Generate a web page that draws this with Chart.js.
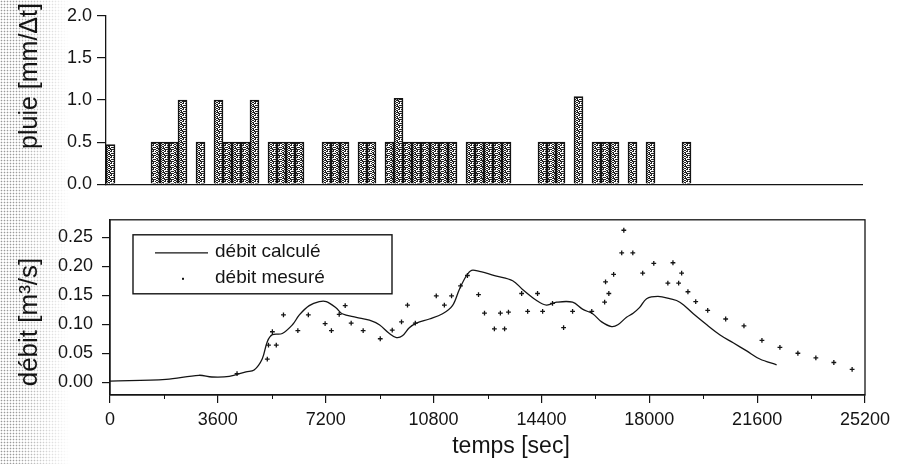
<!DOCTYPE html>
<html lang="fr">
<head>
<meta charset="utf-8">
<title>Pluie et débit</title>
<script src="https://cdn.jsdelivr.net/npm/chart.js@4.4.1/dist/chart.umd.min.js"></script>
<style>
  html, body { margin: 0; padding: 0; background: #fff; }
  #page { position: relative; width: 901px; height: 464px; overflow: hidden; }
  #trame {
    position: absolute; left: 0; top: 0; width: 74px; height: 464px;
    background-image: radial-gradient(circle, #9a9a9a 0.7px, transparent 1.1px);
    background-size: 3px 3px;
    -webkit-mask-image: linear-gradient(to right, #000 0, #000 14px, transparent 70px);
    mask-image: linear-gradient(to right, #000 0, #000 14px, transparent 70px);
  }
  canvas { position: absolute; left: 0; }
  #pluie { top: 0; }
  #debit { top: 200px; }
</style>
</head>
<body>
<div id="page">
  <div id="trame"></div>
  <canvas id="pluie" width="901" height="200"></canvas>
  <canvas id="debit" width="901" height="264"></canvas>
</div>
<script>
// pluie : début de chaque pas de temps (s) et hauteur tombée (mm)
const pasTemps = 300;
const tempsPluie = [0, 1500, 1800, 2100, 2400, 3000, 3600, 3900, 4200, 4500, 4800,
  5400, 5700, 6000, 6300, 7200, 7500, 7800, 8400, 8700,
  9300, 9600, 9900, 10200, 10500, 10800, 11100, 11400,
  12000, 12300, 12600, 12900, 13200, 14400, 14700, 15000, 15600,
  16200, 16500, 16800, 17400, 18000, 19200];
const pluie = [0.47, 0.5, 0.5, 0.5, 1.0, 0.5, 1.0, 0.5, 0.5, 0.5, 1.0,
  0.5, 0.5, 0.5, 0.5, 0.5, 0.5, 0.5, 0.5, 0.5,
  0.5, 1.02, 0.5, 0.5, 0.5, 0.5, 0.5, 0.5,
  0.5, 0.5, 0.5, 0.5, 0.5, 0.5, 0.5, 0.5, 1.04,
  0.5, 0.5, 0.5, 0.5, 0.5, 0.5];

// débit calculé par le modèle (s, m3/s)
const tempsCalcule = [0, 1870, 2970, 3400, 3980, 4540, 4810, 5080, 5250, 5420,
  5750, 6090, 6320, 6650, 6985, 7220, 7550, 7750, 8220, 8660,
  8990, 9325, 9560, 9760, 9990, 10230, 10660, 11100, 11430, 11660,
  11900, 12070, 12330, 12900, 13440, 13770, 14240, 14570, 14910, 15440,
  15770, 16110, 16410, 16740, 16950, 17240, 17460, 17680, 17910, 18290,
  18680, 19020, 19470, 19920, 20350, 20800, 21250, 21690, 22250];
const debitCalcule = [0.002, 0.005, 0.012, 0.009, 0.010, 0.018, 0.021, 0.040, 0.070, 0.082,
  0.084, 0.099, 0.116, 0.132, 0.139, 0.139, 0.128, 0.118, 0.112, 0.107,
  0.099, 0.084, 0.077, 0.080, 0.094, 0.102, 0.109, 0.118, 0.132, 0.160,
  0.184, 0.193, 0.191, 0.183, 0.175, 0.160, 0.141, 0.133, 0.138, 0.138,
  0.126, 0.118, 0.104, 0.096, 0.099, 0.112, 0.119, 0.129, 0.144, 0.148,
  0.144, 0.138, 0.118, 0.099, 0.082, 0.068, 0.054, 0.040, 0.030];

// débit mesuré (s, m3/s)
const tempsMesure = [4240, 5250, 5290, 5420, 5550, 5790, 6270, 6620, 7180, 7390,
  7650, 7850, 8050, 8450, 9020, 9420, 9730, 9930, 10190, 10890,
  11160, 11400, 11700, 11930, 12300, 12500, 12830, 13030, 13170, 13300,
  13740, 13940, 14270, 14440, 14770, 15140, 15440, 16080, 16510, 16540,
  16650, 16810, 17080, 17150, 17450, 17780, 18150, 18620, 18790, 18980,
  19080, 19290, 19550, 19950, 20550, 21160, 21760, 22360, 22960, 23560,
  24160, 24770];
const debitMesure = [0.015, 0.040, 0.064, 0.087, 0.064, 0.116, 0.089, 0.116, 0.101, 0.089,
  0.117, 0.132, 0.102, 0.089, 0.075, 0.090, 0.104, 0.133, 0.102, 0.149,
  0.133, 0.149, 0.166, 0.184, 0.151, 0.119, 0.092, 0.119, 0.092, 0.121,
  0.153, 0.122, 0.153, 0.122, 0.136, 0.094, 0.122, 0.122, 0.138, 0.173,
  0.153, 0.186, 0.223, 0.262, 0.223, 0.188, 0.205, 0.171, 0.206, 0.171,
  0.188, 0.156, 0.139, 0.124, 0.109, 0.097, 0.072, 0.060, 0.050, 0.042,
  0.034, 0.022];

const pluieTicks = [0, 0.5, 1.0, 1.5, 2.0];
const debitTicks = [0, 0.05, 0.10, 0.15, 0.20, 0.25];
const tempsTicks = [0, 3600, 7200, 10800, 14400, 18000, 21600, 25200];

const encre = '#141414';
const police = "'Liberation Sans', Arial, Helvetica, sans-serif";
Chart.defaults.font.family = police;
Chart.defaults.color = encre;

// trame mouchetée des barres de pluie
function trameBarres() {
  const c = document.createElement('canvas');
  c.width = 6; c.height = 6;
  const g = c.getContext('2d');
  g.fillStyle = '#fff';
  g.fillRect(0, 0, 6, 6);
  g.fillStyle = '#222';
  [[0, 0, 2, 1], [3, 0, 1, 2], [5, 1, 1, 1], [1, 2, 1, 2], [4, 3, 2, 1],
   [0, 4, 1, 1], [2, 5, 2, 1], [5, 5, 1, 1], [3, 3, 1, 1], [2, 1, 1, 1],
   [0, 2, 1, 1], [4, 5, 1, 1], [1, 4, 2, 1]].forEach(r => g.fillRect(...r));
  return g.createPattern(c, 'repeat');
}

function texteVertical(ctx, texte, x, y, taille) {
  ctx.save();
  ctx.translate(x, y);
  ctx.rotate(-Math.PI / 2);
  ctx.font = taille + 'px ' + police;
  ctx.fillStyle = encre;
  ctx.textAlign = 'center';
  ctx.textBaseline = 'middle';
  ctx.fillText(texte, 0, 0);
  ctx.restore();
}

const titrePluie = {
  id: 'titrePluie',
  afterDraw(chart) {
    texteVertical(chart.ctx, 'pluie [mm/Δt]', 30, 76, 25);
  }
};

const habillageDebit = {
  id: 'habillageDebit',
  afterDraw(chart) {
    const { ctx, chartArea: a, scales } = chart;
    ctx.save();
    ctx.strokeStyle = encre;
    ctx.lineWidth = 1.3;
    ctx.strokeRect(a.left, a.top, a.right - a.left, a.bottom - a.top);

    // graduations secondaires de l'axe du temps
    ctx.lineWidth = 1;
    for (let t = 1800; t < 25200; t += 3600) {
      const px = Math.round(scales.x.getPixelForValue(t)) + 0.5;
      ctx.beginPath();
      ctx.moveTo(px, a.bottom);
      ctx.lineTo(px, a.bottom + 4);
      ctx.stroke();
    }

    // légende encadrée
    const lx = a.left + 23, ly = a.top + 15, lw = 259, lh = 59;
    ctx.lineWidth = 1.4;
    ctx.strokeRect(lx, ly, lw, lh);
    ctx.lineWidth = 1.2;
    ctx.beginPath();
    ctx.moveTo(lx + 22, ly + 18);
    ctx.lineTo(lx + 75, ly + 18);
    ctx.stroke();
    ctx.fillStyle = encre;
    ctx.fillRect(lx + 49, ly + 43, 2, 2);
    ctx.font = '19px ' + police;
    ctx.textBaseline = 'middle';
    ctx.fillText('débit calculé', lx + 82, ly + 17);
    ctx.fillText('débit mesuré', lx + 82, ly + 43);

    ctx.font = '23px ' + police;
    ctx.textAlign = 'center';
    ctx.fillText('temps [sec]', 511, 247);
    ctx.restore();
    texteVertical(ctx, 'débit [m³/s]', 30, 122, 26);
  }
};

new Chart(document.getElementById('pluie'), {
  type: 'bar',
  data: {
    datasets: [{
      label: 'pluie',
      data: tempsPluie.map((t, i) => ({ x: t + pasTemps / 2, y: pluie[i] })),
      backgroundColor: trameBarres(),
      borderColor: encre,
      borderWidth: 1.6,
      barPercentage: 1,
      categoryPercentage: 1
    }]
  },
  options: {
    responsive: false,
    animation: false,
    devicePixelRatio: 1,
    layout: { padding: { top: 14, right: 39, left: 0, bottom: 0 } },
    plugins: { legend: { display: false }, tooltip: { enabled: false } },
    scales: {
      x: {
        type: 'linear',
        min: 0,
        max: 25200,
        offset: false,
        ticks: { display: false },
        grid: { display: true, drawOnChartArea: false, drawTicks: false },
        border: { display: true, color: encre, width: 1.3 },
        afterFit: axis => { axis.height = 6; }
      },
      y: {
        min: 0,
        max: 2,
        afterBuildTicks: axis => { axis.ticks = pluieTicks.map(v => ({ value: v })); },
        ticks: { font: { size: 18 }, padding: 5, callback: v => v.toFixed(1) },
        grid: { drawOnChartArea: false, tickLength: 9, color: encre, lineWidth: 1.2 },
        border: { display: true, color: encre, width: 1.3 },
        afterFit: axis => { axis.width = 106; }
      }
    }
  },
  plugins: [titrePluie]
});

new Chart(document.getElementById('debit'), {
  type: 'scatter',
  data: {
    datasets: [{
      label: 'débit calculé',
      data: tempsCalcule.map((t, i) => ({ x: t, y: debitCalcule[i] })),
      showLine: true,
      borderColor: encre,
      borderWidth: 1.3,
      pointRadius: 0,
      tension: 0.35
    }, {
      label: 'débit mesuré',
      data: tempsMesure.map((t, i) => ({ x: t, y: debitMesure[i] })),
      showLine: false,
      pointStyle: 'cross',
      pointRadius: 2.4,
      borderColor: encre,
      borderWidth: 1.3
    }]
  },
  options: {
    responsive: false,
    animation: false,
    devicePixelRatio: 1,
    layout: { padding: { top: 15, right: 36, left: 0, bottom: 0 } },
    plugins: { legend: { display: false }, tooltip: { enabled: false } },
    scales: {
      x: {
        type: 'linear',
        min: 0,
        max: 25200,
        afterBuildTicks: axis => { axis.ticks = tempsTicks.map(v => ({ value: v })); },
        ticks: { font: { size: 18 }, padding: 6, maxRotation: 0, callback: v => String(v) },
        grid: { drawOnChartArea: false, tickLength: 8, color: encre, lineWidth: 1.2 },
        border: { display: true, color: encre, width: 1.3 },
        afterFit: axis => { axis.height = 69; }
      },
      y: {
        min: -0.022,
        max: 0.28,
        afterBuildTicks: axis => { axis.ticks = debitTicks.map(v => ({ value: v })); },
        ticks: { font: { size: 18 }, padding: 9, callback: v => v.toFixed(2) },
        grid: { drawOnChartArea: false, tickLength: 8, color: encre, lineWidth: 1.2 },
        border: { display: true, color: encre, width: 1.3 },
        afterFit: axis => { axis.width = 110; }
      }
    }
  },
  plugins: [habillageDebit]
});
</script>
</body>
</html>
